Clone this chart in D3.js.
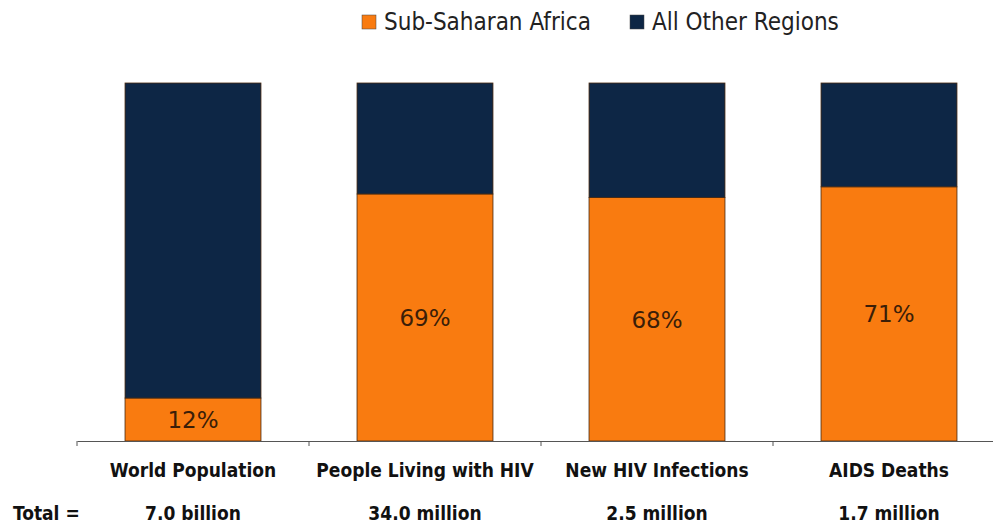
<!DOCTYPE html>
<html>
<head>
<meta charset="utf-8">
<script src="https://d3js.org/d3.v7.min.js"></script>
<style>
  body { margin: 0; background: #fff; }
  svg { display: block; }
</style>
</head>
<body>
<svg id="chart" width="993" height="525"></svg>
<script>
// chart values
var categories = ["World Population", "People Living with HIV", "New HIV Infections", "AIDS Deaths"];
var totals = ["7.0 billion", "34.0 million", "2.5 million", "1.7 million"];
var africaPct = [12, 69, 68, 71];
var seriesNames = ["Sub-Saharan Africa", "All Other Regions"];
var seriesColors = ["#f97b10", "#0d2645"];

var svg = d3.select("#chart");

// layout
var x0 = 77, bandW = 232;
var yTop = 83, yBottom = 441;

var x = d3.scaleBand()
  .domain(categories)
  .range([x0, x0 + bandW * categories.length])
  .paddingInner(0.414)
  .paddingOuter(0.207);

var y = d3.scaleLinear().domain([0, 100]).range([yBottom, yTop]);

var rows = categories.map(function (c, i) {
  return { cat: c, africa: africaPct[i], other: 100 - africaPct[i] };
});
var stack = d3.stack().keys(["africa", "other"])(rows);

var g = svg.append("g");
g.selectAll("g.layer")
  .data(stack)
  .enter()
  .append("g")
  .attr("class", "layer")
  .attr("fill", function (d, i) { return seriesColors[i]; })
  .selectAll("rect")
  .data(function (d) { return d; })
  .enter()
  .append("rect")
  .attr("x", function (d) { return x(d.data.cat); })
  .attr("width", x.bandwidth())
  .attr("y", function (d) { return y(d[1]); })
  .attr("height", function (d) { return y(d[0]) - y(d[1]); })
  .attr("stroke", "#4a2a10")
  .attr("stroke-width", 0.8);

// percentage labels in orange segment
g.selectAll("text.pct")
  .data(rows)
  .enter()
  .append("text")
  .attr("class", "pct")
  .attr("x", function (d) { return x(d.cat) + x.bandwidth() / 2; })
  .attr("y", function (d) { return (y(0) + y(d.africa)) / 2; })
  .attr("dy", "0.36em")
  .attr("text-anchor", "middle")
  .attr("font-family", "DejaVu Sans")
  .attr("font-size", 23)
  .attr("fill", "#3b1e08")
  .text(function (d) { return d.africa + "%"; });

// axis line with ticks between categories
var axis = d3.axisBottom(x).tickSize(0).tickFormat("");
var ax = svg.append("g").attr("transform", "translate(0," + yBottom + ")").call(axis);
ax.select(".domain").attr("stroke", "#555").attr("stroke-width", 1);
svg.append("g")
  .selectAll("line")
  .data(d3.range(categories.length))
  .enter()
  .append("line")
  .attr("x1", function (i) { return x0 + i * bandW; })
  .attr("x2", function (i) { return x0 + i * bandW; })
  .attr("y1", yBottom)
  .attr("y2", yBottom + 5)
  .attr("stroke", "#555");

// category labels
svg.append("g")
  .selectAll("text")
  .data(categories)
  .enter()
  .append("text")
  .attr("x", function (d) { return x(d) + x.bandwidth() / 2; })
  .attr("y", 477)
  .attr("text-anchor", "middle")
  .attr("font-family", "Liberation Sans Narrow, DejaVu Sans Condensed, sans-serif")
  .attr("font-weight", "bold")
  .attr("font-size", 19)
  .attr("fill", "#111")
  .text(function (d) { return d; });

// totals
svg.append("g")
  .selectAll("text")
  .data(totals)
  .enter()
  .append("text")
  .attr("x", function (d, i) { return x(categories[i]) + x.bandwidth() / 2; })
  .attr("y", 520)
  .attr("text-anchor", "middle")
  .attr("font-family", "Liberation Sans Narrow, DejaVu Sans Condensed, sans-serif")
  .attr("font-weight", "bold")
  .attr("font-size", 19)
  .attr("fill", "#111")
  .text(function (d) { return d; });

svg.append("text")
  .attr("x", 13)
  .attr("y", 520)
  .attr("font-family", "Liberation Sans Narrow, DejaVu Sans Condensed, sans-serif")
  .attr("font-weight", "bold")
  .attr("font-size", 19)
  .attr("fill", "#111")
  .text("Total =");

// legend
var legendX = [362, 630];
var leg = svg.append("g")
  .selectAll("g")
  .data(seriesNames)
  .enter()
  .append("g")
  .attr("transform", function (d, i) { return "translate(" + legendX[i] + ",15)"; });
leg.append("rect")
  .attr("width", 14)
  .attr("height", 14)
  .attr("fill", function (d, i) { return seriesColors[i]; })
  .attr("stroke", "#444")
  .attr("stroke-width", 0.5);
leg.append("text")
  .attr("x", 22)
  .attr("y", 15)
  .attr("font-family", "DejaVu Sans Condensed, DejaVu Sans, sans-serif")
  .attr("font-size", 24)
  .attr("fill", "#222")
  .text(function (d) { return d; });
</script>
</body>
</html>
